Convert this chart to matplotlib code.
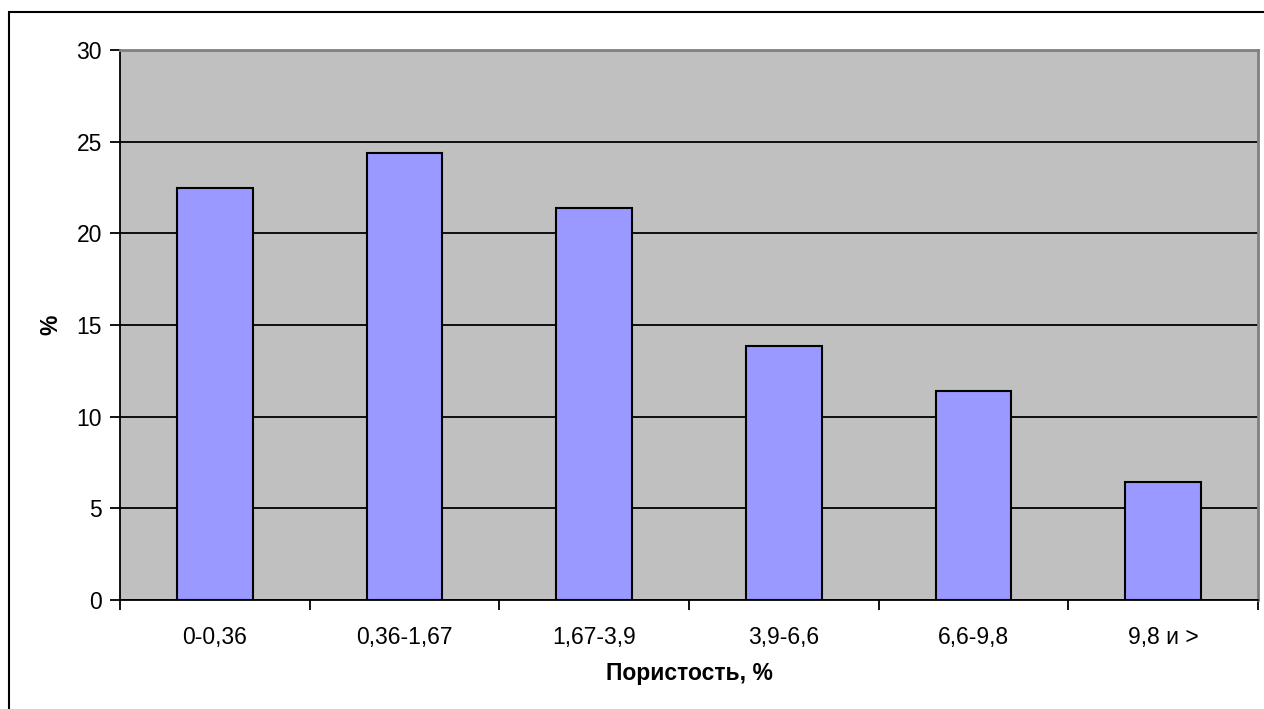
import matplotlib
matplotlib.use("Agg")
from matplotlib import pyplot as plt
from matplotlib.patches import Rectangle
import numpy as np

# porosity class vs share of samples
categories = ["0-0,36", "0,36-1,67", "1,67-3,9", "3,9-6,6", "6,6-9,8", "9,8 и >"]
percent = [22.5, 24.4, 21.4, 13.85, 11.4, 6.45]
yticks = [0, 5, 10, 15, 20, 25, 30]

plt.rcParams['font.family'] = ['Liberation Sans', 'DejaVu Sans']
FS = 16.5

fig = plt.figure(figsize=(12.64, 7.09), dpi=100)
ax = fig.add_axes([120 / 1264, 1 - 600 / 709, 1138 / 1264, 550 / 709])
ax.set_facecolor('#C0C0C0')

x = np.arange(len(categories))
ax.bar(x, percent, width=0.4, color='#9999FF', edgecolor='black', linewidth=1.5, zorder=3)

#Gridlines
ax.set_ylim(0, 30)
ax.set_xlim(-0.5, len(categories) - 0.5)
ax.set_yticks(yticks)
ax.yaxis.grid(True, color='black', linewidth=1.3, zorder=1)
ax.set_axisbelow(True)

#x ticks sit on category borders, labels at the centers
ax.set_xticks(np.arange(len(categories) + 1) - 0.5)
ax.set_xticklabels([])
ax.set_xticks(x, minor=True)
ax.set_xticklabels(categories, minor=True, fontsize=FS)
ax.tick_params(axis='x', which='minor', length=0, pad=19)
ax.tick_params(axis='x', which='major', length=7, width=1.3, direction='out')
ax.tick_params(axis='y', length=7, width=1.3, direction='out', labelsize=FS, pad=6)

for side in ['left', 'bottom']:
    ax.spines[side].set_color('black')
    ax.spines[side].set_linewidth(1.3)
for side in ['top', 'right']:
    ax.spines[side].set_color('#808080')
    ax.spines[side].set_linewidth(2)

ax.set_xlabel("Пористость, %", fontsize=FS, fontweight='bold', labelpad=9)
ax.set_ylabel("%", fontsize=FS, fontweight='bold', labelpad=10)

#Outer chart border
fig.patches.append(Rectangle((9 / 1264, -0.1), 1.2, 1.1 - 12 / 709, transform=fig.transFigure,
                             fill=False, edgecolor='black', linewidth=1.5, clip_on=False))

fig.savefig("out.png", dpi=100)
